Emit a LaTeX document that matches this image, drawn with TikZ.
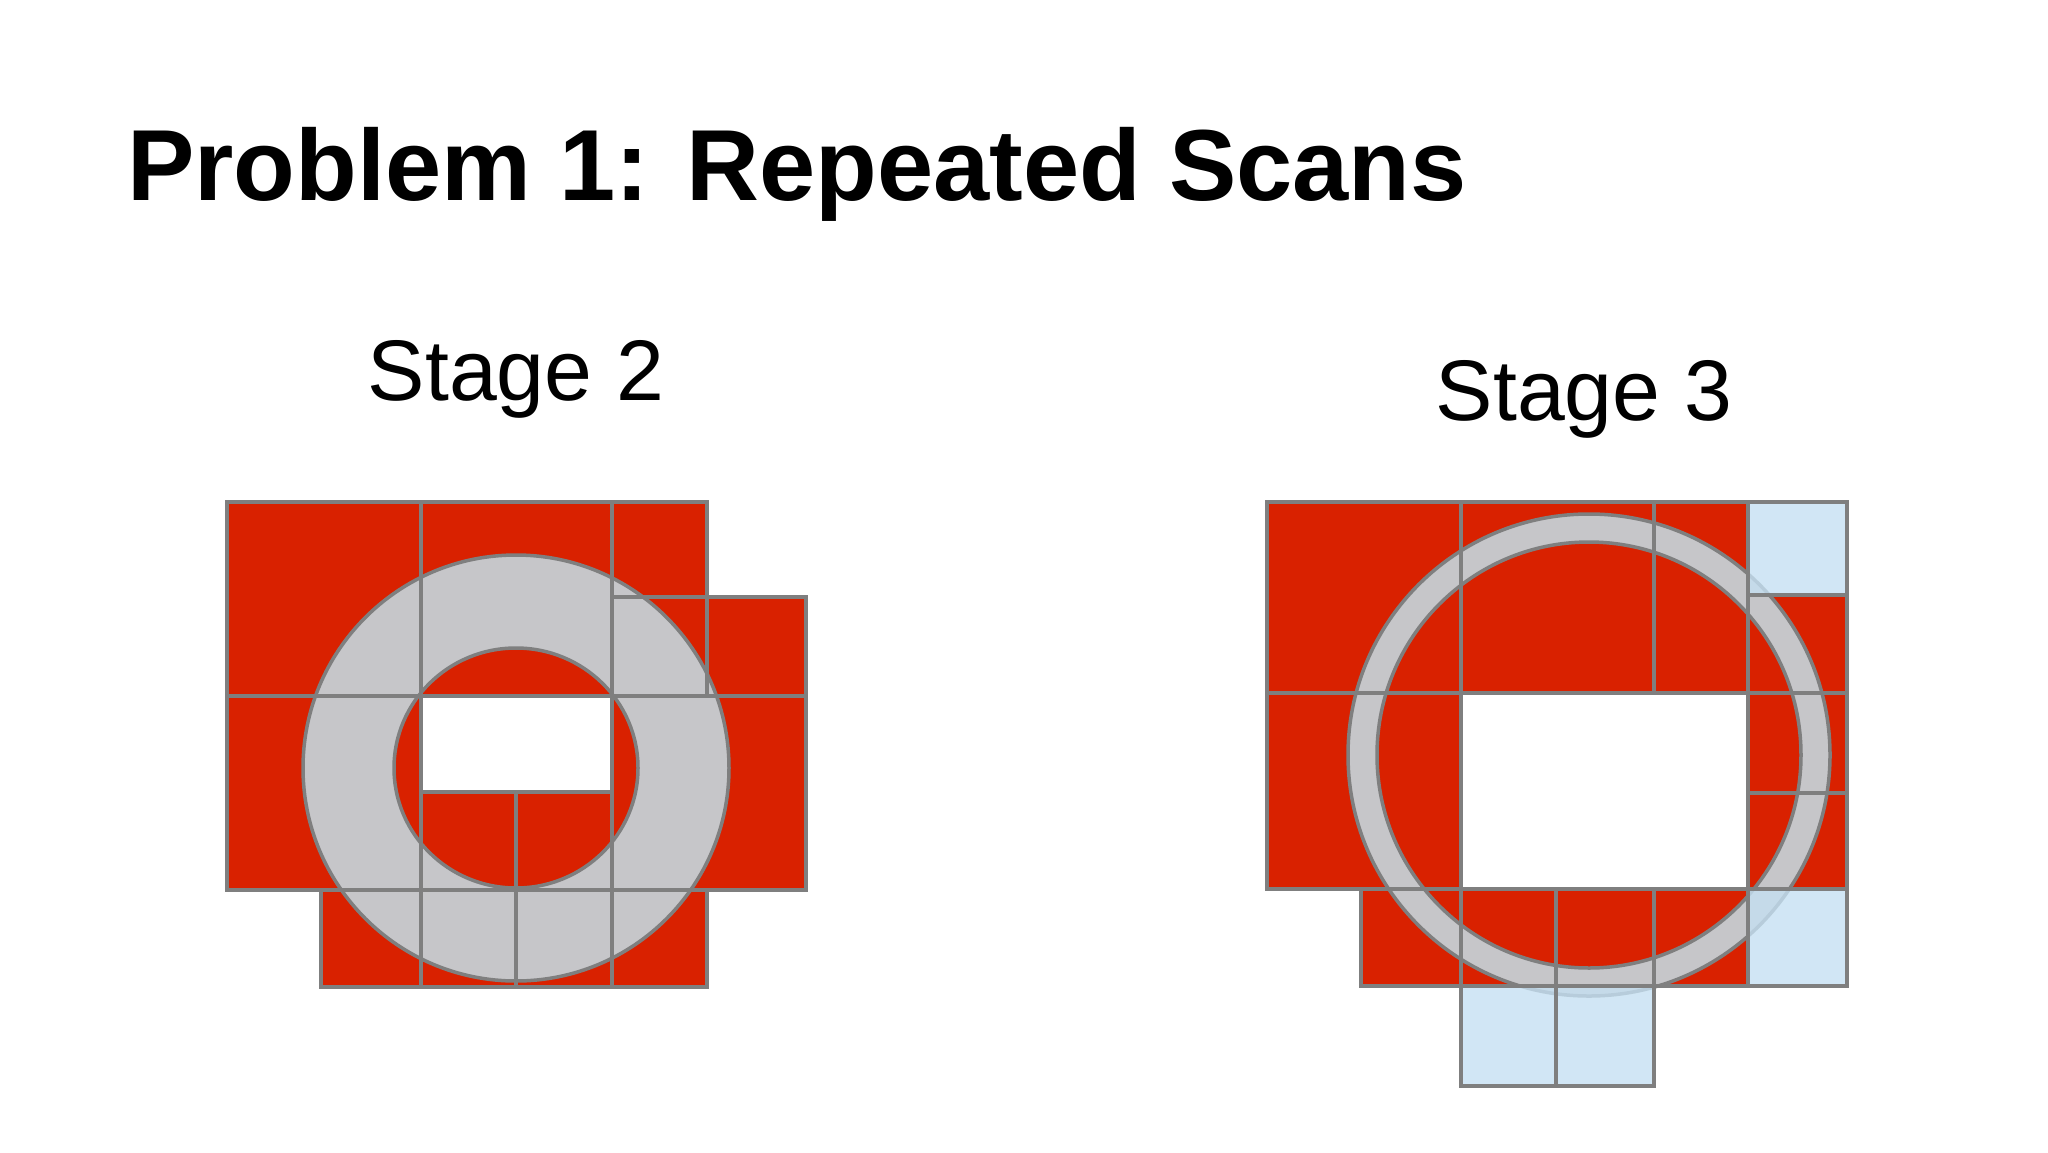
\documentclass[tikz,border=0pt]{standalone}
\usepackage{fontspec}
\setmainfont{Liberation Sans}
\definecolor{cred}{HTML}{D92100}
\definecolor{cgr}{HTML}{7F7F7F}
\definecolor{cring}{HTML}{C6C6C9}
\definecolor{cblue}{HTML}{C5E0F2}
\begin{document}
\begin{tikzpicture}[x=1pt,y=-1pt,
  redc/.style={fill=cred},
  bluec/.style={fill=cblue,fill opacity=0.8},
  whitec/.style={fill=white},
  grid/.style={draw=cgr,line width=4pt},
  ring/.style={fill=cring,draw=cgr,line width=3.5pt,even odd rule}]
\useasboundingbox (0,0) rectangle (2048,1152);
\node[anchor=base west,font=\bfseries\fontsize{101}{120}\selectfont,inner sep=0] (title) at (127,200) {Problem 1: Repeated Scans};
\node[anchor=base,font=\fontsize{86}{100}\selectfont,inner sep=0] (s2) at (516,400) {Stage 2};
\node[anchor=base,font=\fontsize{86}{100}\selectfont,inner sep=0] (s3) at (1584,420) {Stage 3};
% ---- Stage 2
\path[redc] (227,502) -| (707,597) -| (806,890) -| (707,987) -| (321,890) -| (227,502) -- cycle;
\path[ring] (516,768) ellipse [x radius=213,y radius=213] (516,768) ellipse [x radius=122,y radius=120];
\path[whitec] (421,696) rectangle (612,792);
\foreach \a/\b/\c/\d in {227/502/421/696, 421/502/612/696, 612/502/707/597, 612/597/707/696, 707/597/806/696,
  227/696/421/890, 421/696/612/792, 421/792/516/890, 516/792/612/890, 612/696/806/890,
  321/890/421/987, 421/890/516/987, 516/890/612/987, 612/890/707/987}
  \draw[grid] (\a,\b) rectangle (\c,\d);
% ---- Stage 3
\foreach \a/\b/\c/\d in {1267/502/1461/693, 1461/502/1654/693, 1654/502/1748/693, 1748/595/1847/693,
  1267/693/1461/889, 1748/693/1847/793, 1748/793/1847/889,
  1361/889/1461/986, 1461/889/1556/986, 1556/889/1654/986, 1654/889/1748/986}
  \path[redc] (\a,\b) rectangle (\c,\d);
\path[ring] (1589,755) ellipse [x radius=241,y radius=241] (1589,755) ellipse [x radius=212,y radius=213];
\path[whitec] (1461,693) rectangle (1748,889);
\foreach \a/\b/\c/\d in {1748/502/1847/595, 1748/889/1847/986, 1461/986/1556/1086, 1556/986/1654/1086}
  \path[bluec] (\a,\b) rectangle (\c,\d);
\foreach \a/\b/\c/\d in {1267/502/1461/693, 1461/502/1654/693, 1654/502/1748/693, 1748/502/1847/595, 1748/595/1847/693,
  1267/693/1461/889, 1461/693/1748/889, 1748/693/1847/793, 1748/793/1847/889,
  1361/889/1461/986, 1461/889/1556/986, 1556/889/1654/986, 1654/889/1748/986, 1748/889/1847/986,
  1461/986/1556/1086, 1556/986/1654/1086}
  \draw[grid] (\a,\b) rectangle (\c,\d);
\end{tikzpicture}
\end{document}
